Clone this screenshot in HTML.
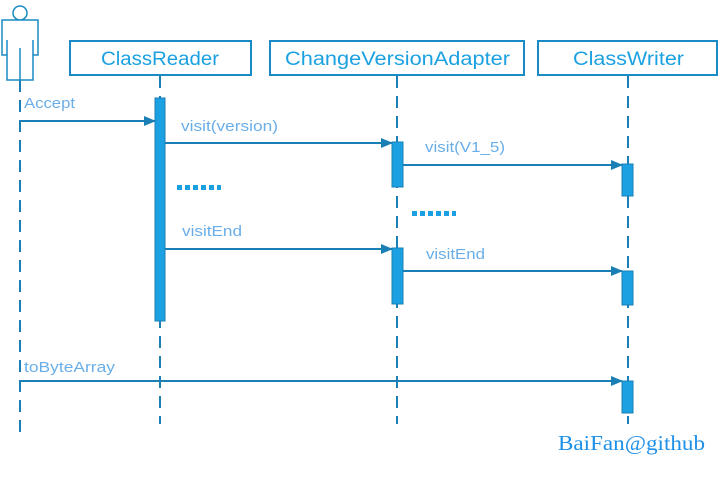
<!DOCTYPE html>
<html><head><style>
body{margin:0;background:#fff;}
svg text{font-family:"Liberation Sans",sans-serif;}
</style></head><body>
<svg width="721" height="477" xmlns="http://www.w3.org/2000/svg">
<defs><marker id="a" markerWidth="12" markerHeight="10" refX="11" refY="5" orient="auto" markerUnits="userSpaceOnUse"><path d="M0,0 L12,5 L0,10 z" fill="#1a7fb5"/></marker></defs>
<g stroke="#1a7fb5" stroke-width="2" fill="none" stroke-dasharray="12,8">
<line x1="20" y1="80" x2="20" y2="437"/>
<line x1="160" y1="76" x2="160" y2="424"/>
<line x1="397" y1="76" x2="397" y2="424"/>
<line x1="628" y1="76" x2="628" y2="424"/>
</g>
<g stroke="#1a8bc4" stroke-width="1.5" fill="#fff">
<circle cx="20" cy="13" r="7"/>
<path d="M2,20 H38 V55 H33 V80 H7 V55 H2 Z"/>
<line x1="7" y1="40" x2="7" y2="55"/><line x1="33" y1="40" x2="33" y2="55"/><line x1="20" y1="48" x2="20" y2="80"/>
</g>
<g stroke="#1a8bc4" stroke-width="2" fill="#fff">
<rect x="70" y="41" width="181" height="34"/>
<rect x="270" y="41" width="254" height="34"/>
<rect x="538" y="41" width="179" height="34"/>
</g>
<g font-size="19" fill="#1ba1e2">
<text x="101" y="65" textLength="118" lengthAdjust="spacingAndGlyphs">ClassReader</text>
<text x="285" y="65" textLength="225" lengthAdjust="spacingAndGlyphs">ChangeVersionAdapter</text>
<text x="573" y="65" textLength="111" lengthAdjust="spacingAndGlyphs">ClassWriter</text>
</g>
<g fill="#1ba1e2" stroke="#1a7fb5" stroke-width="1">
<rect x="155" y="98" width="10" height="223"/>
<rect x="392" y="142" width="11" height="45"/>
<rect x="392" y="248" width="11" height="56"/>
<rect x="622" y="164" width="11" height="32"/>
<rect x="622" y="271" width="11" height="34"/>
<rect x="622" y="381" width="11" height="32"/>
</g>
<g stroke="#1a7fb5" stroke-width="2" marker-end="url(#a)">
<line x1="20" y1="121" x2="155" y2="121"/>
<line x1="165" y1="143" x2="392" y2="143"/>
<line x1="403" y1="165" x2="622" y2="165"/>
<line x1="165" y1="249" x2="392" y2="249"/>
<line x1="403" y1="271" x2="622" y2="271"/>
<line x1="20" y1="381" x2="622" y2="381"/>
</g>
<g font-size="15" fill="#6aaee8" lengthAdjust="spacingAndGlyphs">
<text x="24" y="108" textLength="51" lengthAdjust="spacingAndGlyphs">Accept</text>
<text x="181" y="131" textLength="97" lengthAdjust="spacingAndGlyphs">visit(version)</text>
<text x="425" y="152" textLength="80" lengthAdjust="spacingAndGlyphs">visit(V1_5)</text>
<text x="182" y="236" textLength="60" lengthAdjust="spacingAndGlyphs">visitEnd</text>
<text x="426" y="259" textLength="59" lengthAdjust="spacingAndGlyphs">visitEnd</text>
<text x="24" y="372" textLength="91" lengthAdjust="spacingAndGlyphs">toByteArray</text>
</g>
<g fill="#1ba1e2">
<rect x="177" y="185" width="5" height="5"/><rect x="185" y="185" width="5" height="5"/><rect x="193" y="185" width="5" height="5"/><rect x="201" y="185" width="5" height="5"/><rect x="209" y="185" width="5" height="5"/><rect x="217" y="185" width="4" height="5"/>
<rect x="412" y="211" width="5" height="5"/><rect x="420" y="211" width="5" height="5"/><rect x="428" y="211" width="5" height="5"/><rect x="436" y="211" width="5" height="5"/><rect x="444" y="211" width="5" height="5"/><rect x="452" y="211" width="4" height="5"/>
</g>
<text x="558" y="450" font-size="21" fill="#1e90e8" textLength="147" lengthAdjust="spacingAndGlyphs" style="font-family:'Liberation Serif',serif">BaiFan@github</text>
</svg>
</body></html>
